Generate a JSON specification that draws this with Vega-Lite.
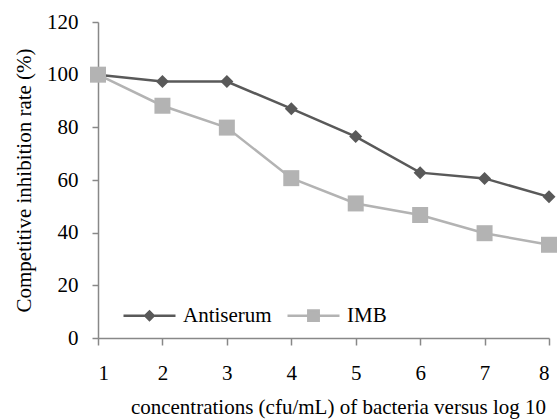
{
  "$schema": "https://vega.github.io/schema/vega-lite/v6.json",
  "width": 451,
  "height": 316,
  "autosize": {"type": "none"},
  "padding": {"left": 98, "top": 22, "right": 8, "bottom": 81},
  "background": "white",
  "config": {
    "view": {"stroke": null},
    "font": "Liberation Serif",
    "axis": {
      "domainColor": "#888888",
      "tickColor": "#888888",
      "domainWidth": 1.5,
      "tickWidth": 1.5,
      "grid": false
    }
  },
  "data": {
    "values": [
      {"x": 1, "rate": 100, "series": "Antiserum"},
      {"x": 2, "rate": 97.4, "series": "Antiserum"},
      {"x": 3, "rate": 97.4, "series": "Antiserum"},
      {"x": 4, "rate": 87.1, "series": "Antiserum"},
      {"x": 5, "rate": 76.5, "series": "Antiserum"},
      {"x": 6, "rate": 62.8, "series": "Antiserum"},
      {"x": 7, "rate": 60.6, "series": "Antiserum"},
      {"x": 8, "rate": 53.6, "series": "Antiserum"},
      {"x": 1, "rate": 100, "series": "IMB"},
      {"x": 2, "rate": 88.2, "series": "IMB"},
      {"x": 3, "rate": 79.9, "series": "IMB"},
      {"x": 4, "rate": 60.7, "series": "IMB"},
      {"x": 5, "rate": 51.1, "series": "IMB"},
      {"x": 6, "rate": 46.7, "series": "IMB"},
      {"x": 7, "rate": 39.8, "series": "IMB"},
      {"x": 8, "rate": 35.4, "series": "IMB"}
    ]
  },
  "encoding": {
    "x": {
      "field": "x",
      "type": "quantitative",
      "scale": {"domain": [1, 8], "nice": false, "zero": false},
      "axis": {
        "values": [1, 2, 3, 4, 5, 6, 7, 8],
        "title": "concentrations (cfu/mL) of bacteria versus log 10",
        "labelFont": "Liberation Serif",
        "titleFont": "Liberation Serif",
        "labelFontSize": 21,
        "titleFontSize": 21,
        "titleFontWeight": "normal",
        "labelColor": "black",
        "titleColor": "black",
        "tickSize": 7,
        "labelPadding": 17,
        "titlePadding": 13,
        "titleX": 240
      }
    },
    "y": {
      "field": "rate",
      "type": "quantitative",
      "scale": {"domain": [0, 120], "nice": false},
      "axis": {
        "values": [0, 20, 40, 60, 80, 100, 120],
        "title": "Competitive inhibition rate (%)",
        "labelFont": "Liberation Serif",
        "titleFont": "Liberation Serif",
        "labelFontSize": 21,
        "titleFontSize": 21,
        "titleFontWeight": "normal",
        "labelColor": "black",
        "titleColor": "black",
        "tickSize": 6,
        "labelPadding": 14,
        "titlePadding": 12
      }
    }
  },
  "layer": [
    {
      "mark": {"type": "line", "strokeWidth": 2.5},
      "encoding": {
        "color": {
          "field": "series",
          "type": "nominal",
          "scale": {"domain": ["Antiserum", "IMB"], "range": ["#595959", "#B3B3B3"]},
          "legend": {
            "title": null,
            "orient": "none",
            "direction": "horizontal",
            "legendX": 24,
            "legendY": 266,
            "padding": 0,
            "labelFont": "Liberation Serif",
            "labelFontSize": 21,
            "labelColor": "black",
            "symbolSize": 2704,
            "symbolStrokeWidth": 2.5,
            "labelOffset": 6,
            "columnPadding": 10,
            "encode": {
              "symbols": {
                "update": {
                  "shape": {"signal": "datum.value === 'Antiserum' ? 'M-1,0L1,0M-0.16,0L0,-0.16L0.16,0L0,0.16Z' : 'M-1,0L1,0M-0.2,-0.2L0.2,-0.2L0.2,0.2L-0.2,0.2Z'"},
                  "fill": {"signal": "datum.value === 'Antiserum' ? '#595959' : '#B3B3B3'"},
                  "stroke": {"signal": "datum.value === 'Antiserum' ? '#595959' : '#B3B3B3'"},
                  "strokeWidth": {"value": 2.5}
                }
              }
            }
          }
        }
      }
    },
    {
      "transform": [{"filter": "datum.series === 'Antiserum'"}],
      "mark": {"type": "point", "filled": true, "opacity": 1, "shape": "diamond", "size": 169, "color": "#595959"}
    },
    {
      "transform": [{"filter": "datum.series === 'IMB'"}],
      "mark": {"type": "point", "filled": true, "opacity": 1, "shape": "square", "size": 256, "color": "#B3B3B3"}
    }
  ]
}
